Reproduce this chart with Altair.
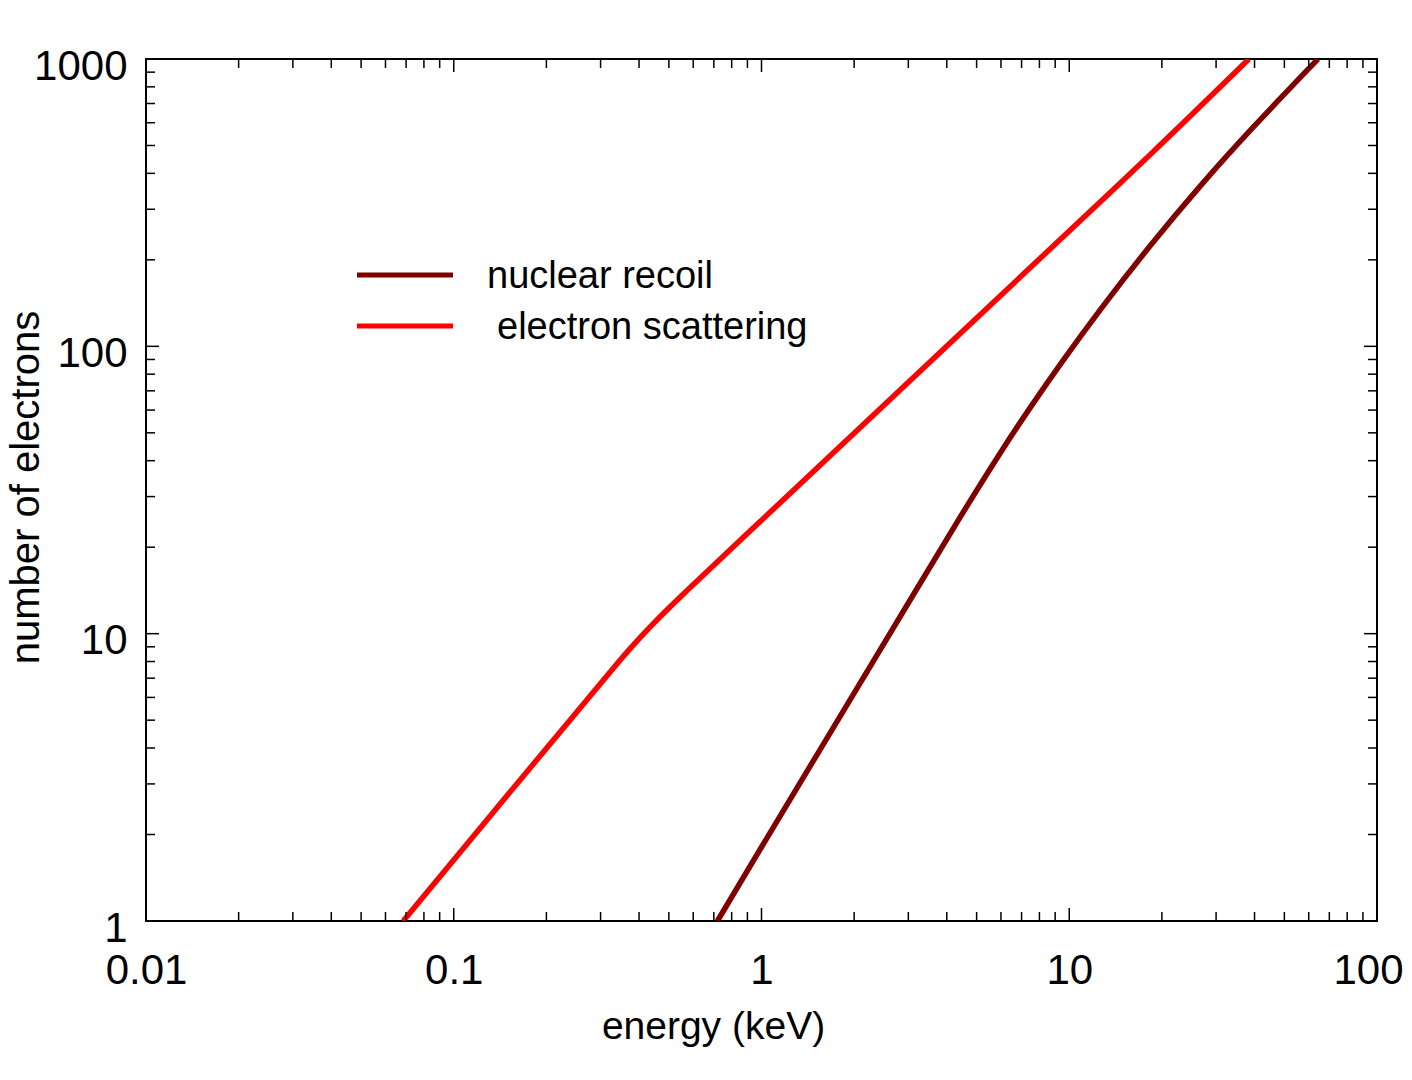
import altair as alt
import pandas as pd

# ---- data ----
series_names = ["nuclear recoil", "electron scattering"]
series_colors = ["#800000", "#FF0000"]

nr_energy = [0.719, 1.046, 1.521, 2.212, 3.216, 4.438, 5.986, 7.496, 9.385, 12.66,
             18.41, 26.77, 38.92, 64.29]
nr_electrons = [1.0, 1.962, 3.819, 7.43, 14.46, 25.69, 42.94, 61.75, 87.34, 135.6,
                226.5, 365.1, 569.9, 1000]

es_energy = [0.0685, 0.1416, 0.2995, 0.3351, 0.3750, 0.4355, 0.5059, 0.5876, 0.9209,
             1.591, 4.118, 8.388, 18.41, 38.34]
es_electrons = [1.0, 2.561, 6.696, 7.736, 8.904, 10.60, 12.45, 14.52, 22.83,
                39.59, 103.2, 211.2, 464.5, 1000]

x_major = [0.01, 0.1, 1, 10, 100]
y_major = [1, 10, 100, 1000]
x_minor = [k * d for d in [0.01, 0.1, 1, 10] for k in range(2, 10)]
y_minor = [k * d for d in [1, 10, 100] for k in range(2, 10)]

legend_labels = ["nuclear recoil", "electron scattering"]

# ---- tables ----
lines = pd.concat([
    pd.DataFrame({"energy": nr_energy, "electrons": nr_electrons, "series": series_names[0]}),
    pd.DataFrame({"energy": es_energy, "electrons": es_electrons, "series": series_names[1]}),
], ignore_index=True)

W, H = 1231, 862
FONT = "Liberation Sans"
xscale = alt.Scale(type="log", domain=[0.01, 100])
yscale = alt.Scale(type="log", domain=[1, 1000])

xaxis = alt.Axis(values=x_major, format="~g", ticks=False, tickSize=0, domain=False,
                 grid=False, labelPadding=62, labelBaseline="alphabetic",
                 labelOffset={"condition": {"test": "datum.value === 100", "value": -9},
                              "value": 0},
                 labelFontSize=42, labelFlush=False, labelOverlap=False,
                 labelFont=FONT, labelColor="black",
                 title="energy (keV)", titleFontSize=39, titleX=567, titleY=117,
                 titleAlign="center", titleBaseline="alphabetic",
                 titleFont=FONT, titleColor="black", titleFontWeight="normal")
yaxis = alt.Axis(values=y_major, format="d", ticks=False, tickSize=0, domain=False,
                 grid=False, labelPadding=19, labelBaseline="middle", labelOffset=7,
                 labelFontSize=42, labelFlush=False, labelOverlap=False,
                 labelFont=FONT, labelColor="black",
                 title="number of electrons", titleFontSize=40, titleX=-108, titleY=428,
                 titleAngle=270, titleAlign="center", titleBaseline="alphabetic",
                 titleFont=FONT, titleColor="black", titleFontWeight="normal")

main = alt.Chart(lines).mark_line(strokeWidth=5.5, interpolate="basis", clip=True).encode(
    x=alt.X("energy:Q", scale=xscale, axis=xaxis),
    y=alt.Y("electrons:Q", scale=yscale, axis=yaxis),
    color=alt.Color("series:N", scale=alt.Scale(domain=series_names, range=series_colors),
                    legend=None),
    order="energy:Q",
)

def xticks(vals, length):
    d = pd.DataFrame({"v": vals})
    base = alt.Chart(d).mark_rule(color="black", strokeWidth=1.5)
    bottom = base.encode(x=alt.X("v:Q", scale=xscale, axis=xaxis),
                         y=alt.value(H), y2=alt.value(H - length))
    top = base.encode(x=alt.X("v:Q", scale=xscale, axis=xaxis),
                      y=alt.value(0), y2=alt.value(length))
    return [bottom, top]

def yticks(vals, length):
    d = pd.DataFrame({"v": vals})
    base = alt.Chart(d).mark_rule(color="black", strokeWidth=1.5)
    left = base.encode(y=alt.Y("v:Q", scale=yscale, axis=yaxis),
                       x=alt.value(0), x2=alt.value(length))
    right = base.encode(y=alt.Y("v:Q", scale=yscale, axis=yaxis),
                        x=alt.value(W), x2=alt.value(W - length))
    return [left, right]

tick_layers = (xticks(x_major, 13) + xticks(x_minor, 9)
               + yticks(y_major, 13) + yticks(y_minor, 9))

legend_dx = [0, 10]
legend_layers = []
for i, (lab, col) in enumerate(zip(legend_labels, series_colors)):
    d = alt.Data(values=[{"label": lab}])
    legend_layers.append(
        alt.Chart(d).mark_rule(color=col, strokeWidth=5).encode(
            x=alt.value(211), x2=alt.value(307), y=alt.value(216 + 51 * i))
    )
    legend_layers.append(
        alt.Chart(d).mark_text(align="left", baseline="alphabetic", fontSize=38,
                               font=FONT, color="black").encode(
            x=alt.value(341 + legend_dx[i]), y=alt.value(229 + 51 * i), text="label:N")
    )

chart = alt.layer(main, *tick_layers, *legend_layers).properties(
    width=W, height=H,
    background="white",
    autosize=alt.AutoSizeParams(type="none"),
    padding={"left": 138, "top": 51, "right": 27, "bottom": 138},
).configure_view(stroke="black", strokeWidth=2)

chart.save("out.html", embed_options={"renderer": "svg", "actions": False})
